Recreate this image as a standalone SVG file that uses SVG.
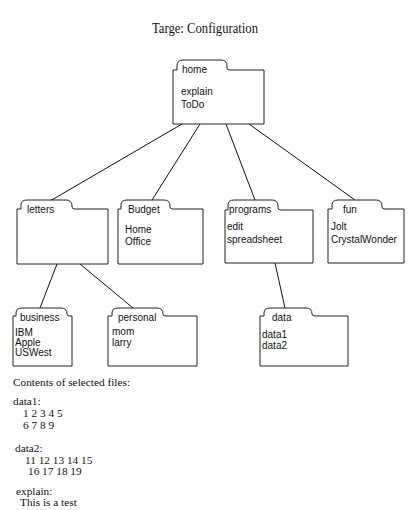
<svg xmlns="http://www.w3.org/2000/svg" width="420" height="510" viewBox="0 0 420 510">
<style>
.f{fill:#fff;stroke:#222;stroke-width:1}
.lb{font-family:"Liberation Sans",Arial,sans-serif;font-size:10px;fill:#111}
.tx{font-family:"Liberation Sans",Arial,sans-serif;font-size:10px;fill:#111}
.sr{font-family:"Liberation Serif","Times New Roman",serif;font-size:11.3px;fill:#111}
.c{stroke:#111;stroke-width:1;fill:none}
</style>
<rect width="420" height="510" fill="#fff"/>
<text x="152" y="33" textLength="106" lengthAdjust="spacingAndGlyphs" font-family="Liberation Serif,Times New Roman,serif" font-size="14.5" fill="#111">Targe: Configuration</text>
<g id="connectors">
<line class="c" x1="182" y1="124" x2="50" y2="201"/>
<line class="c" x1="200" y1="124" x2="152" y2="200"/>
<line class="c" x1="226" y1="124" x2="255" y2="200"/>
<line class="c" x1="249" y1="124" x2="355" y2="200"/>
<line class="c" x1="57" y1="264" x2="40" y2="308"/>
<line class="c" x1="80" y1="264" x2="133" y2="308"/>
<line class="c" x1="275" y1="263" x2="285" y2="308"/>
</g>
<g id="home">
<path class="f" d="M173,124 V70 H177 V66 Q177,60 183,60 H221 Q227,60 227,66 V68 Q227,70 230,70 H264 V124 Z"/>
<text class="lb" x="182" y="73">home</text>
<text class="tx" x="181" y="95">explain</text>
<text class="tx" x="181" y="108">ToDo</text>
</g>
<g id="letters">
<path class="f" d="M17,264 V209 H21 V205 Q21,200 27,200 H66 Q72,200 72,206 V207 Q72,209 75,209 H108 V264 Z"/>
<text class="lb" x="27" y="213">letters</text>
</g>
<g id="budget">
<path class="f" d="M118,264 V209 H121 V205 Q121,200 127,200 H164 Q170,200 170,206 V207 Q170,209 173,209 H203 V264 Z"/>
<text class="lb" x="128" y="213">Budget</text>
<text class="tx" x="125" y="233">Home</text>
<text class="tx" x="125" y="245">Office</text>
</g>
<g id="programs">
<path class="f" d="M225,263 V210 H228 V205 Q228,200 234,200 H272 Q278,200 278,206 V208 Q278,210 281,210 H313 V263 Z"/>
<text class="lb" x="229" y="213">programs</text>
<text class="tx" x="227" y="230">edit</text>
<text class="tx" x="227" y="243">spreadsheet</text>
</g>
<g id="fun">
<path class="f" d="M328,263 V209 H332 V205 Q332,200 338,200 H376 Q382,200 382,206 V207 Q382,209 385,209 H404 V263 Z"/>
<text class="lb" x="343" y="213">fun</text>
<text class="tx" x="331" y="230">Jolt</text>
<text class="tx" x="331" y="243">CrystalWonder</text>
</g>
<g id="business">
<path class="f" d="M13,366 V316 H16 V313 Q16,308 22,308 H61 Q67,308 67,314 V314 Q67,316 70,316 H72 V366 Z"/>
<text class="lb" x="20" y="321">business</text>
<text class="tx" x="15" y="336">IBM</text>
<text class="tx" x="15" y="346">Apple</text>
<text class="tx" x="15" y="356">USWest</text>
</g>
<g id="personal">
<path class="f" d="M108,366 V316 H112 V313 Q112,308 118,308 H157 Q163,308 163,314 V314 Q163,316 166,316 H197 V366 Z"/>
<text class="lb" x="118" y="321">personal</text>
<text class="tx" x="112" y="335">mom</text>
<text class="tx" x="112" y="346">larry</text>
</g>
<g id="data">
<path class="f" d="M260,366 V316 H264 V313 Q264,308 270,308 H306 Q312,308 312,314 V314 Q312,316 315,316 H348 V366 Z"/>
<text class="lb" x="272" y="321">data</text>
<text class="tx" x="262" y="338">data1</text>
<text class="tx" x="262" y="349">data2</text>
</g>
<g id="contents">
<text class="sr" x="13" y="386">Contents of selected files:</text>
<text class="sr" x="13" y="405">data1:</text>
<text class="sr" x="23" y="417">1 2 3 4 5</text>
<text class="sr" x="23" y="429">6 7 8 9</text>
<text class="sr" x="15" y="452">data2:</text>
<text class="sr" x="25" y="464">11 12 13 14 15</text>
<text class="sr" x="28" y="475">16 17 18 19</text>
<text class="sr" x="16" y="495">explain:</text>
<text class="sr" x="20" y="506">This is a test</text>
</g>
</svg>
